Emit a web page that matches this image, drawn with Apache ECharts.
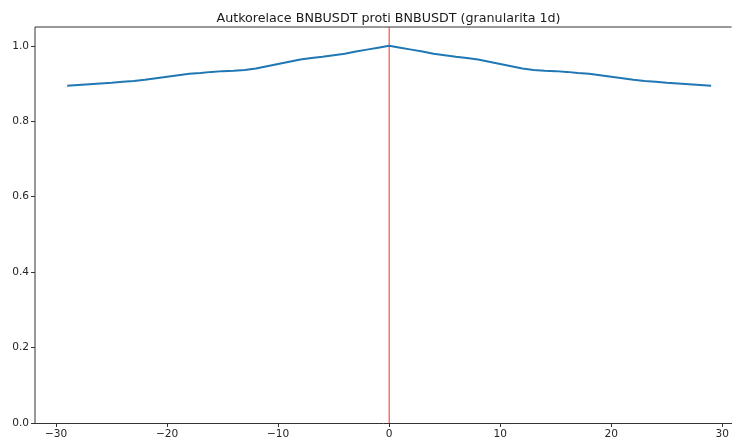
<!DOCTYPE html>
<html>
<head>
<meta charset="utf-8">
<title>Autkorelace BNBUSDT</title>
<script src="https://cdn.jsdelivr.net/npm/echarts@6/dist/echarts.min.js"></script>
<style>
  html, body { margin: 0; padding: 0; background: #fff; overflow: hidden; }
  #chart { width: 732px; height: 441px; }
</style>
</head>
<body>
<div id="chart"></div>
<script>
// Lags (days) and the autocorrelation value at each lag
const lags = [
  -29, -28, -27, -26, -25, -24, -23, -22, -21, -20,
  -19, -18, -17, -16, -15, -14, -13, -12, -11, -10,
  -9, -8, -7, -6, -5, -4, -3, -2, -1, 0,
  1, 2, 3, 4, 5, 6, 7, 8, 9, 10,
  11, 12, 13, 14, 15, 16, 17, 18, 19, 20,
  21, 22, 23, 24, 25, 26, 27, 28, 29
];
const autocorr = [
  0.894, 0.896, 0.898, 0.900, 0.902, 0.905, 0.907, 0.910, 0.914, 0.918,
  0.922, 0.926, 0.928, 0.931, 0.933, 0.934, 0.936, 0.940, 0.946, 0.952,
  0.958, 0.964, 0.968, 0.971, 0.975, 0.979, 0.985, 0.990, 0.995, 1.000,
  0.995, 0.990, 0.985, 0.979, 0.975, 0.971, 0.968, 0.964, 0.958, 0.952,
  0.946, 0.940, 0.936, 0.934, 0.933, 0.931, 0.928, 0.926, 0.922, 0.918,
  0.914, 0.910, 0.907, 0.905, 0.902, 0.900, 0.898, 0.896, 0.894
];
const xTicks = [-30, -20, -10, 0, 10, 20, 30];
const yTicks = [0, 0.2, 0.4, 0.6, 0.8, 1.0];
const zeroLag = 0;
const xRange = [-31.9, 30.84];
const yRange = [0, 1.05];
const titleText = 'Autkorelace BNBUSDT proti BNBUSDT (granularita 1d)';

const fontFamily = '"DejaVu Sans", sans-serif';
const spineColor = '#333333';
const textColor = '#262626';

// straight segment used for the frame and the zero-lag marker
function segment(points, color, z) {
  return {
    type: 'line',
    data: points,
    showSymbol: false,
    symbol: 'none',
    silent: true,
    clip: false,
    lineStyle: { color, width: 1 },
    z
  };
}

const chart = echarts.init(document.getElementById('chart'), null, { renderer: 'canvas' });

chart.setOption({
  animation: false,
  backgroundColor: '#ffffff',
  title: {
    text: titleText,
    left: 383.5,
    textAlign: 'center',
    top: 7,
    textStyle: { fontFamily, fontSize: 12.7, fontWeight: 'normal', color: '#1a1a1a' }
  },
  grid: { left: 35, top: 27, right: 0, bottom: 18, containLabel: false, show: false },
  xAxis: {
    type: 'value',
    min: xRange[0],
    max: xRange[1],
    splitLine: { show: false, showMinLine: false, showMaxLine: false },
    axisLine: { show: true, onZero: false, lineStyle: { color: spineColor, width: 1 } },
    axisTick: {
      show: true, length: 4, inside: false,
      customValues: xTicks,
      lineStyle: { color: spineColor, width: 1 }
    },
    axisLabel: {
      show: true, margin: 6,
      customValues: xTicks,
      fontFamily, fontSize: 10.6, color: textColor,
      formatter: v => (v < 0 ? '\u2212' + Math.abs(v) : String(v))
    }
  },
  yAxis: {
    type: 'value',
    position: 'left',
    min: yRange[0],
    max: yRange[1],
    splitLine: { show: false, showMinLine: false, showMaxLine: false },
    axisLine: { show: false, onZero: false },
    axisTick: {
      show: true, length: 4,
      customValues: yTicks,
      lineStyle: { color: spineColor, width: 1 }
    },
    axisLabel: {
      show: true, margin: 6,
      customValues: yTicks,
      fontFamily, fontSize: 10.6, color: textColor,
      formatter: v => v.toFixed(1)
    }
  },
  series: [
    // left and top spines
    segment([[xRange[0], yRange[0]], [xRange[0], yRange[1]]], spineColor, 2),
    segment([[xRange[0], yRange[1]], [xRange[1], yRange[1]]], spineColor, 2),
    // zero-lag marker
    segment([[zeroLag, yRange[0]], [zeroLag, yRange[1]]], '#ff2a2a', 3),
    {
      type: 'line',
      data: lags.map((l, i) => [l, autocorr[i]]),
      showSymbol: false,
      symbol: 'none',
      lineStyle: { color: '#1f77b4', width: 2 },
      z: 4
    }
  ]
});
</script>
</body>
</html>
